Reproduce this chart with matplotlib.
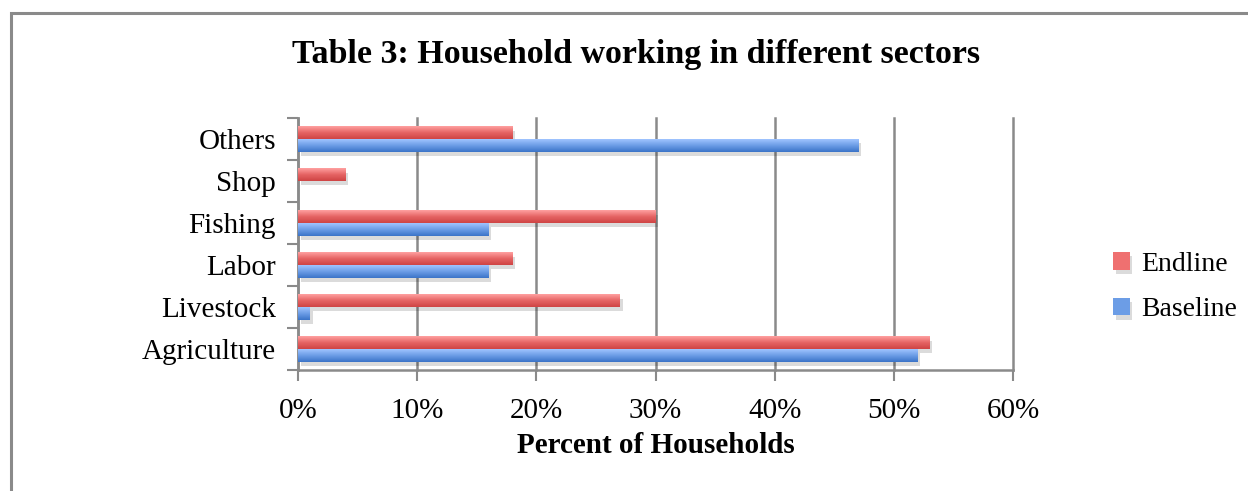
import matplotlib.pyplot as plt
import numpy as np
from matplotlib import patheffects
from matplotlib.patches import Rectangle
from matplotlib.colors import LinearSegmentedColormap

categories = ['Agriculture', 'Livestock', 'Labor', 'Fishing', 'Shop', 'Others']
endline = [53, 27, 18, 30, 4, 18]
baseline = [52, 1, 16, 16, 0, 47]
xticks = [0, 10, 20, 30, 40, 50, 60]

plt.rcParams['font.family'] = ['Liberation Serif', 'DejaVu Serif']

fig = plt.figure(figsize=(12.48, 4.91), dpi=100)
ax = fig.add_axes([298/1248, 1-370/491, (1013-298)/1248, (370-118)/491])

# outer frame of the chart (cut off at right and bottom)
fig.patches.append(Rectangle((11/1248, -0.05), 1.1, 1-13/491+0.05, transform=fig.transFigure,
                             fill=False, edgecolor='#8a8a8a', linewidth=2.2, zorder=0))

red_cmap = LinearSegmentedColormap.from_list('r', ['#cf4444', '#e56464', '#ffa0a0'])
blue_cmap = LinearSegmentedColormap.from_list('b', ['#3b74c8', '#6b9ce6', '#a0c4ff'])

y = np.arange(len(categories))
h = 0.3
shadow = [patheffects.withSimplePatchShadow(offset=(2, -3), shadow_rgbFace='#000000', alpha=0.14)]
b_end = ax.barh(y + h/2, endline, height=h, color='#ef7070', zorder=3, label='Endline')
b_base = ax.barh(y - h/2, baseline, height=h, color='#6c9de6', zorder=3, label='Baseline')

grad = np.linspace(0, 1, 64).reshape(-1, 1)
for bars, cmap in ((b_end, red_cmap), (b_base, blue_cmap)):
    for p in bars.patches:
        if p.get_width() <= 0:
            p.set_visible(False)
            continue
        p.set_path_effects(shadow)
        x0, y0 = p.get_x(), p.get_y()
        im = ax.imshow(grad, cmap=cmap, aspect='auto', origin='lower',
                       extent=(x0, x0 + p.get_width(), y0, y0 + p.get_height()), zorder=4)
        im.set_clip_path(p)

ax.set_xlim(0, 60)
ax.set_ylim(-0.5, len(categories) - 0.5)
ax.set_xticks(xticks)
ax.set_xticklabels([f'{t}%' for t in xticks], fontsize=21)
ax.set_yticks(y)
ax.set_yticklabels(categories, fontsize=21)
ax.set_yticks(np.arange(len(categories) + 1) - 0.5, minor=True)
ax.tick_params(axis='y', which='major', length=0, pad=16)
ax.tick_params(axis='y', which='minor', length=8, width=1.5, color='#8a8a8a')
ax.tick_params(axis='x', length=8, width=1.5, color='#8a8a8a', pad=12)
ax.xaxis.grid(True, color='#8a8a8a', linewidth=1.8, zorder=1)
for gl in ax.get_xgridlines():
    gl.set_clip_on(False)
ax.set_axisbelow(True)
for s in ('top', 'right'):
    ax.spines[s].set_visible(False)
for s in ('left', 'bottom'):
    ax.spines[s].set_color('#8a8a8a')
    ax.spines[s].set_linewidth(1.8)

ax.set_xlabel('Percent of Households', fontsize=21, fontweight='bold', labelpad=6)
fig.text(636/1248, 1-55/491, 'Table 3: Household working in different sectors',
         fontsize=24.5, fontweight='bold', ha='center', va='center')

ax.legend(handles=[b_end, b_base], loc='center left', bbox_to_anchor=(1113/1248, 1-287/491),
          bbox_transform=fig.transFigure, frameon=False, fontsize=20, borderpad=0, borderaxespad=0,
          handlelength=0.6, handleheight=0.6, labelspacing=0.75, handletextpad=0.4)

fig.savefig('out.png', dpi=100)
